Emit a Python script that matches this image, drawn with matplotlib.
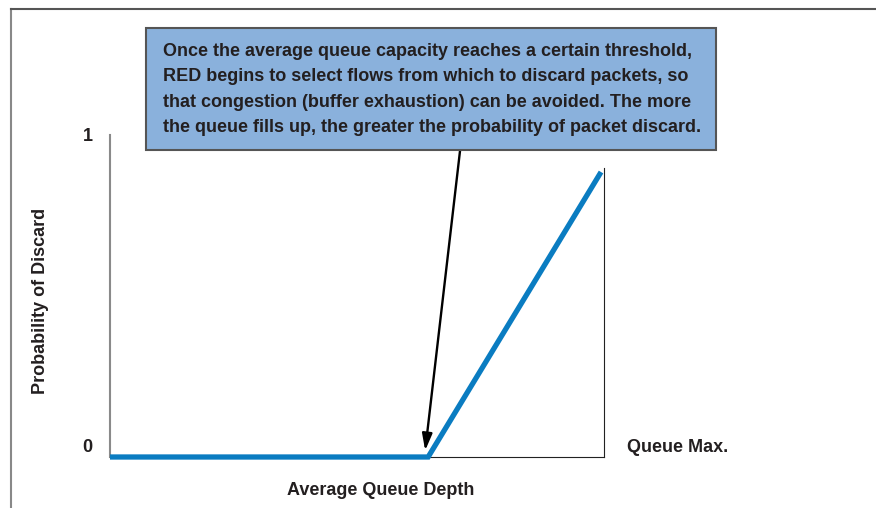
import matplotlib
matplotlib.use('Agg')
import matplotlib.pyplot as plt
from matplotlib.lines import Line2D
from matplotlib.patches import Rectangle

plt.rcParams['font.family'] = ['Liberation Sans', 'DejaVu Sans']

# RED discard curve: average queue depth (fraction of max) vs probability of discard
queue_depth = [0.0, 0.644, 0.994]
discard_prob = [0.0, 0.0, 0.885]
y_ticks = [0, 1]
y_tick_labels = ['0', '1']
note = ("Once the average queue capacity reaches a certain threshold,\n"
        "RED begins to select flows from which to discard packets, so\n"
        "that congestion (buffer exhaustion) can be avoided. The more\n"
        "the queue fills up, the greater the probability of packet discard.")

txt = '#231f20'
fig = plt.figure(figsize=(8.76, 5.08), dpi=100)
ax = fig.add_axes([110 / 876, 51 / 508, 494 / 876, 322 / 508])
ax.set_xlim(0, 1)
ax.set_ylim(0, 1)

ax.plot(queue_depth, discard_prob, color='#0a7cc1', lw=3.8, solid_capstyle='butt',
        solid_joinstyle='miter', zorder=3, clip_on=False)

ax.spines['top'].set_visible(False)
ax.spines['left'].set_color('#8a8a8a')
ax.spines['left'].set_linewidth(1.5)
ax.spines['bottom'].set_color('#222222')
ax.spines['bottom'].set_linewidth(0.8)
ax.spines['right'].set_color('#222222')
ax.spines['right'].set_linewidth(0.8)
ax.spines['right'].set_bounds(0, 0.897)

ax.set_xticks([])
ax.set_yticks(y_ticks)
ax.set_yticklabels([])
ax.tick_params(length=0)
for v, lab in zip(y_ticks, y_tick_labels):
    ax.text(-0.045, v + (0.03 if v == 0 else -0.005), lab, transform=ax.transAxes,
            ha='center', va='center', fontsize=13, fontweight='bold', color=txt)

ax.text(1.047, 0.03, 'Queue Max.', transform=ax.transAxes, ha='left', va='center',
        fontsize=13, fontweight='bold', color=txt)
ax.text(0.547, -0.105, 'Average Queue Depth', transform=ax.transAxes, ha='center',
        va='center', fontsize=13, fontweight='bold', color=txt)
ax.text(-0.14, 0.485, 'Probability of Discard', transform=ax.transAxes, ha='center',
        va='center', rotation=90, fontsize=13, fontweight='bold', color=txt)

# callout box
fig.add_artist(Rectangle((146 / 876, 1 - 150 / 508), 570 / 876, 122 / 508,
                         transform=fig.transFigure, facecolor='#8ab1dc',
                         edgecolor='#555555', linewidth=1.5, zorder=5))
fig.text(163 / 876, 1 - 89.5 / 508, note, ha='left', va='center', fontsize=13,
         fontweight='bold', color=txt, linespacing=1.62, zorder=6)

ax.annotate('', xy=(0.638, 0.02), xytext=(460 / 876, 1 - 151 / 508),
            xycoords='axes fraction', textcoords='figure fraction',
            arrowprops=dict(arrowstyle='-|>,head_length=1.0,head_width=0.3',
                            color='black', lw=1.7, shrinkA=0, shrinkB=0), zorder=4)

# outer frame
fig.add_artist(Line2D([11 / 876, 11 / 876], [0, 1 - 9 / 508], color='#888888', lw=1.5,
                      transform=fig.transFigure))
fig.add_artist(Line2D([11 / 876, 1], [1 - 9 / 508, 1 - 9 / 508], color='#555555', lw=1.5,
                      transform=fig.transFigure))

fig.savefig('out.png', dpi=100)
